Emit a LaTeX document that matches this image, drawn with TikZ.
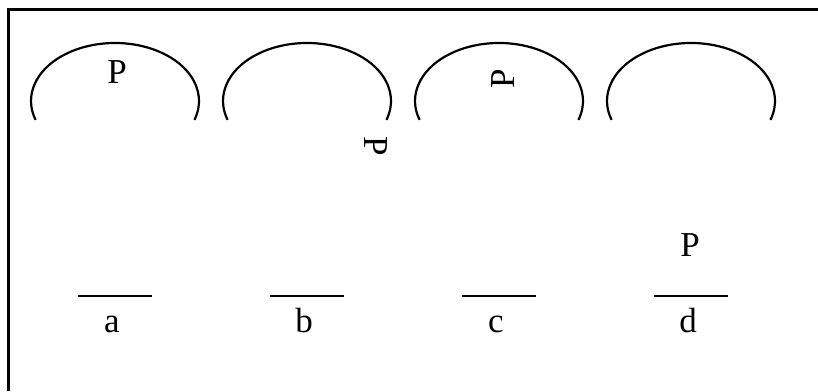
\documentclass[tikz,border=0pt]{standalone}
\usepackage{fontspec}
\setmainfont{Liberation Serif}
\usetikzlibrary{positioning}

\begin{document}
\begin{tikzpicture}[x=1pt, y=1pt,
				frame/.style={line width=3pt},
				dome/.style={line width=2.2pt},
				bar/.style={line width=2.2pt},
				lbl/.style={inner sep=0pt, font=\fontsize{35}{40}\selectfont}
				]
				\useasboundingbox (0,0) rectangle (818,391);
				\draw[frame] (818,381) -- (8,381) -- (8,0);
				\foreach \cx/\tag in {115/a,307/b,499/c,691/d}{
					\draw[dome] ([shift={(\cx,290)}]-19:84 and 58) arc[start angle=-19, end angle=199, x radius=84, y radius=58];
					\draw[bar] (\cx-37,95) -- (\cx+37,95);
					\node[lbl, anchor=base] (lbl\tag) at (\cx-3,59) {\tag};
				}
				\node[lbl] (pa) at (117,318.5) {P};
				\node[lbl, rotate=-90] (pb) at (376,245) {P};
				\node[lbl, rotate=90] (pc) at (503,312) {P};
				\node[lbl] (pd) at (690,146) {P};
			\end{tikzpicture}
\end{document}
